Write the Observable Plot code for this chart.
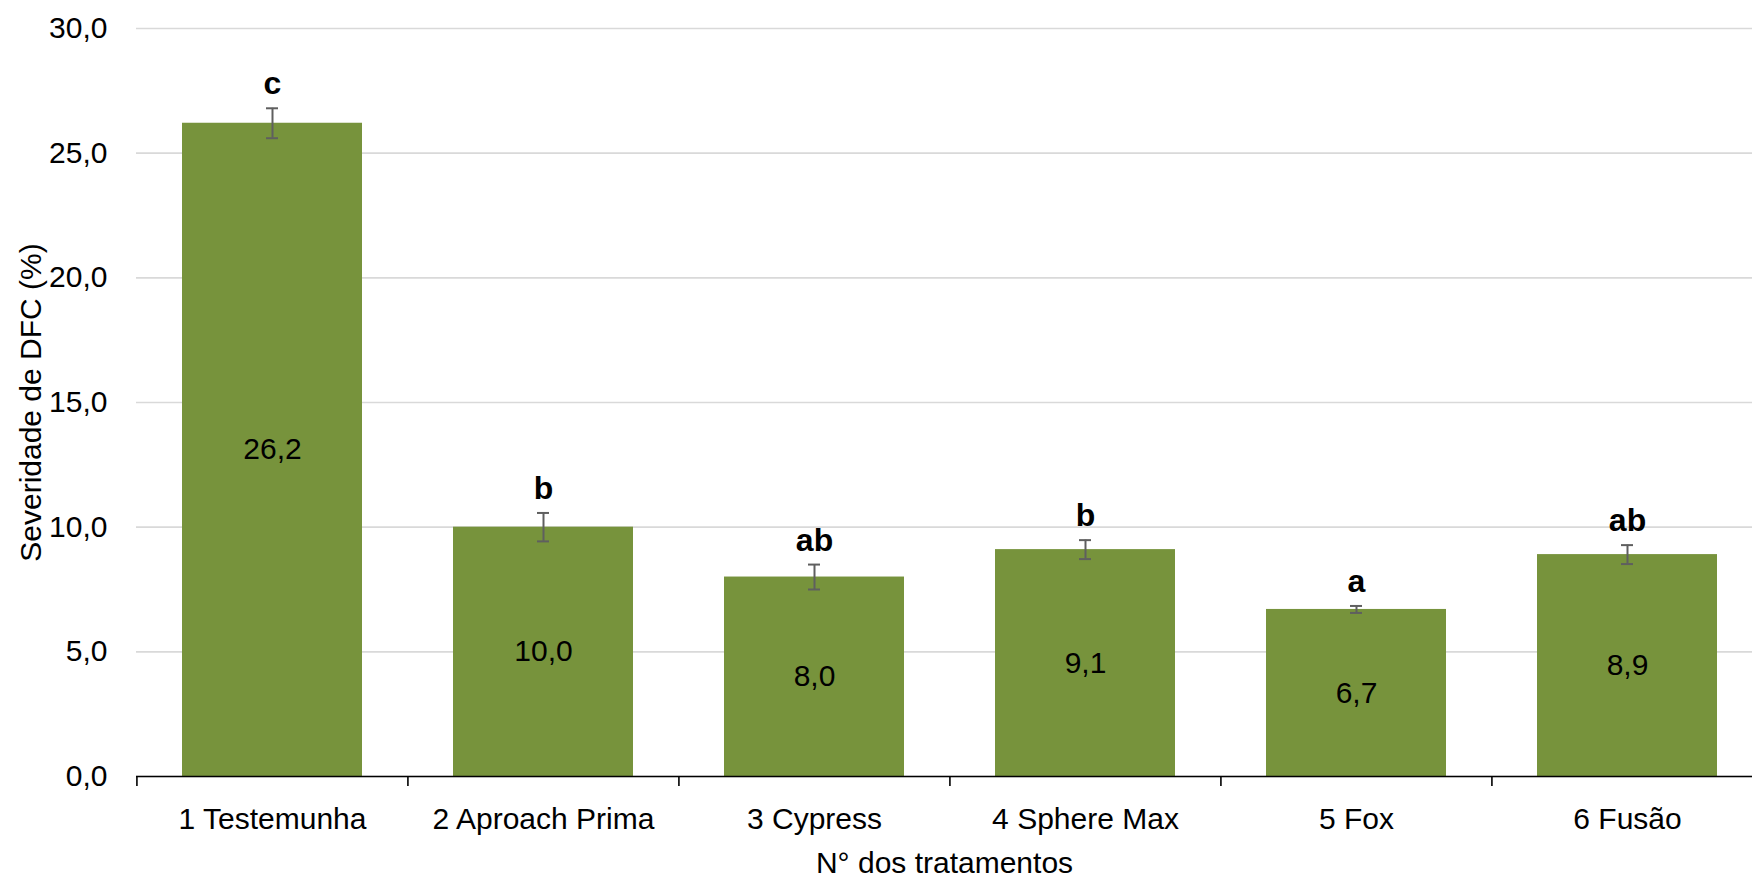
<!DOCTYPE html>
<html>
<head>
<meta charset="utf-8">
<script src="https://cdn.jsdelivr.net/npm/d3@7"></script>
<script src="https://cdn.jsdelivr.net/npm/@observablehq/plot@0.6"></script>
<style>
  html, body { margin: 0; padding: 0; background: #ffffff; }
  #chart svg { display: block; font-family: "Liberation Sans Narrow", "Arial Narrow", "Liberation Sans", Arial, sans-serif; }
</style>
</head>
<body>
<div id="chart"></div>
<script>
const categories = ["1 Testemunha", "2 Aproach Prima", "3 Cypress", "4 Sphere Max", "5 Fox", "6 Fusão"];
const values = [26.2, 10.0, 8.0, 9.1, 6.7, 8.9];
const errors = [0.6, 0.57, 0.5, 0.38, 0.14, 0.38];
const letters = ["c", "b", "ab", "b", "a", "ab"];
const yTicks = [0, 5, 10, 15, 20, 25, 30];

const data = categories.map((c, i) => ({cat: c, v: values[i], e: errors[i], l: letters[i]}));
const fmt = v => d3.format(".1f")(v).replace(".", ",");

const W = 1752, H = 883;
const xRange = [136, 1763];
const step = (xRange[1] - xRange[0]) / categories.length;

const chart = Plot.plot({
  width: W,
  height: H,
  marginTop: 28,
  marginBottom: 107,
  marginLeft: 136,
  marginRight: 0,
  style: {fontSize: "29px", color: "#000", background: "#fff"},
  x: {domain: categories, range: xRange, paddingInner: 0.336, paddingOuter: 0.168, label: null},
  y: {domain: [0, 30], label: null},
  marks: [
    Plot.gridY(yTicks, {stroke: "#d9d9d9", strokeOpacity: 1, strokeWidth: 1.6}),
    Plot.barY(data, {x: "cat", y: "v", fill: "#77933c"}),
    Plot.ruleY([0], {stroke: "#000", strokeWidth: 1.6}),
    Plot.axisY(yTicks, {tickSize: 0, tickPadding: 29, tickFormat: fmt, fontSize: 30, label: null}),
    Plot.axisX({tickSize: 10, tickFormat: () => "", dx: -step / 2, stroke: "#000", strokeWidth: 1.6, label: null}),
    Plot.axisX({tickSize: 0, tickPadding: 31, fontSize: 30, label: null}),
    Plot.ruleX(data, {x: "cat", y1: d => d.v - d.e, y2: d => d.v + d.e, stroke: "#5f5f5f", strokeWidth: 2}),
    Plot.tickY(data, {x: "cat", y: d => d.v + d.e, stroke: "#5f5f5f", strokeWidth: 2, insetLeft: 84, insetRight: 84}),
    Plot.tickY(data, {x: "cat", y: d => d.v - d.e, stroke: "#5f5f5f", strokeWidth: 2, insetLeft: 84, insetRight: 84}),
    Plot.text(data, {x: "cat", y: d => d.v / 2, text: d => fmt(d.v), fontSize: 30, fill: "#000"}),
    Plot.text(data, {x: "cat", y: d => d.v + d.e, text: "l", fontSize: 32, fontWeight: "bold", fill: "#000", lineAnchor: "bottom", dy: -14}),
    Plot.text(["N° dos tratamentos"], {frameAnchor: "bottom", dy: 96, fontSize: 30, fill: "#000"}),
    Plot.text(["Severidade de DFC (%)"], {frameAnchor: "left", textAnchor: "middle", rotate: -90, dx: -105, fontSize: 30, fill: "#000"})
  ]
});
document.getElementById("chart").appendChild(chart);
</script>
</body>
</html>
